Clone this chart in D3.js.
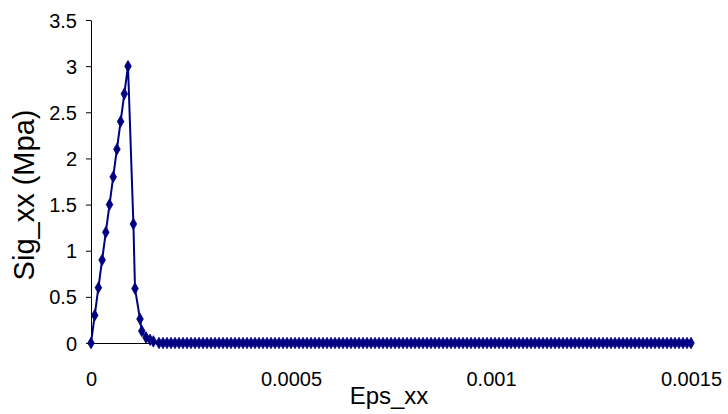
<!DOCTYPE html>
<html>
<head>
<meta charset="utf-8">
<script src="https://cdn.jsdelivr.net/npm/d3@7"></script>
<style>
  html, body { margin: 0; padding: 0; background: #fff; }
  svg { display: block; }
  text { font-family: "Liberation Sans", Arial, sans-serif; fill: #000; }
</style>
</head>
<body>
<svg id="chart" width="728" height="414"></svg>
<script>
// ---- data ----
const epsHead = [0, 0.0000093, 0.0000185, 0.0000278, 0.000037, 0.0000463, 0.0000555, 0.0000648,
                 0.000074, 0.0000833, 0.0000925,
                 0.000106, 0.00011, 0.0001225, 0.000127, 0.0001375, 0.0001475, 0.000156];
const sigHead = [0, 0.3, 0.6, 0.9, 1.2, 1.5, 1.8, 2.1, 2.4, 2.7, 3.0,
                 1.29, 0.59, 0.26, 0.13, 0.06, 0.035, 0.017];
const epsTail = [
  0.00017, 0.00018, 0.00019, 0.0002,
  0.00021, 0.00022, 0.00023, 0.00024, 0.00025, 0.00026, 0.00027, 0.00028, 0.00029, 0.0003,
  0.00031, 0.00032, 0.00033, 0.00034, 0.00035, 0.00036, 0.00037, 0.00038, 0.00039, 0.0004,
  0.00041, 0.00042, 0.00043, 0.00044, 0.00045, 0.00046, 0.00047, 0.00048, 0.00049, 0.0005,
  0.00051, 0.00052, 0.00053, 0.00054, 0.00055, 0.00056, 0.00057, 0.00058, 0.00059, 0.0006,
  0.00061, 0.00062, 0.00063, 0.00064, 0.00065, 0.00066, 0.00067, 0.00068, 0.00069, 0.0007,
  0.00071, 0.00072, 0.00073, 0.00074, 0.00075, 0.00076, 0.00077, 0.00078, 0.00079, 0.0008,
  0.00081, 0.00082, 0.00083, 0.00084, 0.00085, 0.00086, 0.00087, 0.00088, 0.00089, 0.0009,
  0.00091, 0.00092, 0.00093, 0.00094, 0.00095, 0.00096, 0.00097, 0.00098, 0.00099, 0.001,
  0.00101, 0.00102, 0.00103, 0.00104, 0.00105, 0.00106, 0.00107, 0.00108, 0.00109, 0.0011,
  0.00111, 0.00112, 0.00113, 0.00114, 0.00115, 0.00116, 0.00117, 0.00118, 0.00119, 0.0012,
  0.00121, 0.00122, 0.00123, 0.00124, 0.00125, 0.00126, 0.00127, 0.00128, 0.00129, 0.0013,
  0.00131, 0.00132, 0.00133, 0.00134, 0.00135, 0.00136, 0.00137, 0.00138, 0.00139, 0.0014,
  0.00141, 0.00142, 0.00143, 0.00144, 0.00145, 0.00146, 0.00147, 0.00148, 0.00149, 0.0015
];
const sigTail = [
  0, 0, 0, 0,
  0, 0, 0, 0, 0, 0, 0, 0, 0, 0,
  0, 0, 0, 0, 0, 0, 0, 0, 0, 0,
  0, 0, 0, 0, 0, 0, 0, 0, 0, 0,
  0, 0, 0, 0, 0, 0, 0, 0, 0, 0,
  0, 0, 0, 0, 0, 0, 0, 0, 0, 0,
  0, 0, 0, 0, 0, 0, 0, 0, 0, 0,
  0, 0, 0, 0, 0, 0, 0, 0, 0, 0,
  0, 0, 0, 0, 0, 0, 0, 0, 0, 0,
  0, 0, 0, 0, 0, 0, 0, 0, 0, 0,
  0, 0, 0, 0, 0, 0, 0, 0, 0, 0,
  0, 0, 0, 0, 0, 0, 0, 0, 0, 0,
  0, 0, 0, 0, 0, 0, 0, 0, 0, 0,
  0, 0, 0, 0, 0, 0, 0, 0, 0, 0
];
const yTicks = [0, 0.5, 1, 1.5, 2, 2.5, 3, 3.5];
const yTickLabels = ["0", "0.5", "1", "1.5", "2", "2.5", "3", "3.5"];
const xTicks = [0, 0.0005, 0.001, 0.0015];
const xTickLabels = ["0", "0.0005", "0.001", "0.0015"];
const xTitle = "Eps_xx";
const yTitle = "Sig_xx (Mpa)";

// ---- build ----
const eps = epsHead.concat(epsTail);
const sig = sigHead.concat(sigTail);
const pts = eps.map((e, i) => ({ x: e, y: sig[i] }));

const svg = d3.select("#chart");
const x = d3.scaleLinear().domain([0, 0.0015]).range([91, 691]);
const y = d3.scaleLinear().domain([0, 3.5]).range([343, 20]);

const color = "#000080";

// y axis
const yAxis = svg.append("g")
  .attr("transform", "translate(91,0)")
  .call(d3.axisLeft(y).tickValues(yTicks)
    .tickFormat((d, i) => yTickLabels[i])
    .tickSize(5).tickSizeOuter(0).tickPadding(9));
yAxis.selectAll("text").style("font-size", "20px").attr("dy", "0.35em");

// x axis
const xAxis = svg.append("g")
  .attr("transform", "translate(0,343)")
  .call(d3.axisBottom(x).tickValues(xTicks)
    .tickFormat((d, i) => xTickLabels[i])
    .tickSize(5).tickSizeOuter(0).tickPadding(24));
xAxis.selectAll("text").style("font-size", "20px");

svg.selectAll(".domain, .tick line").attr("stroke", "#000").attr("stroke-width", 1);

// line
svg.append("path")
  .datum(pts)
  .attr("fill", "none")
  .attr("stroke", color)
  .attr("stroke-width", 2)
  .attr("stroke-linejoin", "round")
  .attr("d", d3.line().x(d => x(d.x)).y(d => y(d.y)));

// markers
const diamond = d3.symbol().type(d3.symbolDiamond).size(38);
svg.append("g").selectAll("path")
  .data(pts)
  .join("path")
  .attr("transform", d => `translate(${x(d.x)},${y(d.y)})`)
  .attr("d", diamond)
  .attr("fill", color)
  .attr("stroke", color)
  .attr("stroke-width", 0.8)
  .attr("stroke-linejoin", "round");

// titles
svg.append("text")
  .attr("x", 389).attr("y", 404)
  .attr("text-anchor", "middle")
  .style("font-size", "24px")
  .text(xTitle);

svg.append("text")
  .attr("transform", "translate(34,195) rotate(-90)")
  .attr("text-anchor", "middle")
  .style("font-size", "29px")
  .text(yTitle);
</script>
</body>
</html>
